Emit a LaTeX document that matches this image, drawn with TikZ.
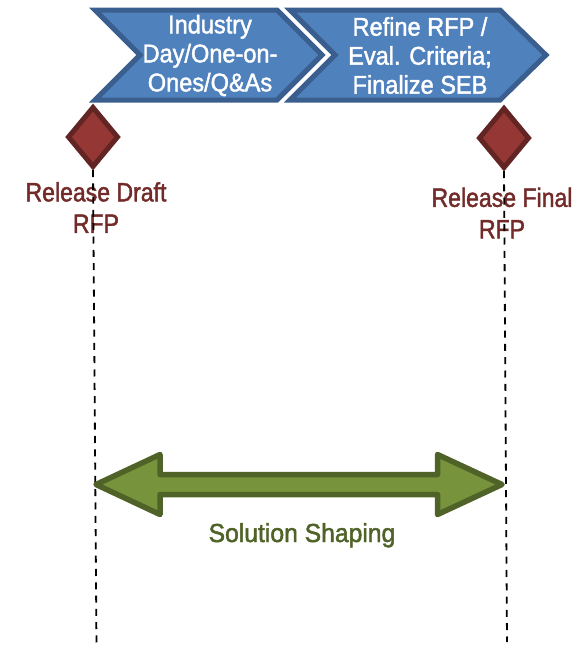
\documentclass[tikz,border=0pt]{standalone}
\usepackage{fontspec}
\setmainfont{Liberation Sans}
\newfontfamily\chevfont{Liberation Sans}[FakeStretch=0.92, FakeBold=1.6]
\newfontfamily\milefont{Liberation Sans}[FakeStretch=0.87, FakeBold=1.6]
\newfontfamily\spanfont{Liberation Sans}[FakeStretch=0.95, FakeBold=1.8]
\usetikzlibrary{shapes.geometric}

\definecolor{chevfill}{HTML}{4F81BD}
\definecolor{chevline}{HTML}{3A5F8E}
\definecolor{milefill}{HTML}{953735}
\definecolor{mileline}{HTML}{632523}
\definecolor{miletext}{HTML}{722B29}
\definecolor{spanfill}{HTML}{77933C}
\definecolor{spanline}{HTML}{4F6228}

\tikzset{
  chevron/.style={fill=chevfill, draw=chevline, line width=5pt, line join=miter},
  halo/.style={draw=white, line width=11pt, line join=miter},
  chevtext/.style={text=white, align=center, inner sep=0pt,
    font=\chevfont\fontsize{25.6}{29}\selectfont},
  milestone/.style={diamond, aspect=0.85, fill=milefill, draw=mileline,
    line width=5pt, minimum width=51pt, minimum height=61pt, inner sep=0pt},
  miletag/.style={text=miletext, align=center, inner sep=0pt,
    font=\milefont\fontsize{26.5}{31.5}\selectfont},
  guide/.style={draw=black, line width=1.8pt, dash pattern=on 7pt off 6.3pt},
  spanarrow/.style={fill=spanfill, draw=spanline, line width=5.5pt, line join=round},
  spantag/.style={text=spanline, inner sep=0pt,
    font=\spanfont\fontsize{26}{30}\selectfont}
}

\begin{document}
\begin{tikzpicture}[x=1pt, y=-1pt]
\useasboundingbox (0,0) rectangle (582,648);

% phase chevrons
\draw[chevron] (95,10) -- (277,10) -- (322,55) -- (277,100) -- (95,100)
  -- (140,55) -- cycle;
\draw[halo] (290,10) -- (500,10) -- (546,55) -- (500,100) -- (290,100)
  -- (335,55) -- cycle;
\draw[chevron] (290,10) -- (500,10) -- (546,55) -- (500,100) -- (290,100)
  -- (335,55) -- cycle;

\node[chevtext] (phase1) at (210,55.5) {Industry\\Day/One-on-\\Ones/Q\&As};
\node[chevtext] (phase2) at (420,55.5) {Refine RFP /\\Eval. Criteria;\\Finalize SEB};

% milestones
\node[milestone] (draft) at (93,137) {};
\node[milestone] (final) at (504,138) {};
\node[miletag] (drafttag) at (96,207.5) {Release Draft\\RFP};
\node[miletag] (finaltag) at (502,213) {Release Final\\RFP};

% vertical guides
\coordinate (draftend) at (96.5,648);
\coordinate (finalend) at (507,642);
\draw[guide] (draft.south) -- (draftend);
\draw[guide] (final.south) -- (finalend);

% solution shaping span
\coordinate (spanL) at (96,484.5);
\coordinate (spanR) at (502,484.5);
\draw[spanarrow] (spanL) -- (160,454.5) -- (160,474.5) -- (437.5,474.5)
  -- (437.5,454.5) -- (spanR) -- (437.5,514.5) -- (437.5,494.5)
  -- (160,494.5) -- (160,514.5) -- cycle;
\node[spantag, anchor=base] (span) at (302,542) {Solution Shaping};
\end{tikzpicture}
\end{document}
